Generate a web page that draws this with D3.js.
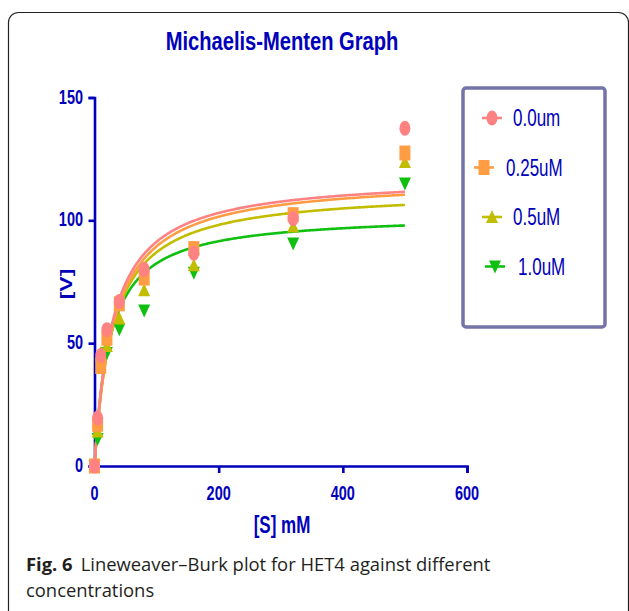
<!DOCTYPE html>
<html>
<head>
<meta charset="utf-8">
<script src="https://cdn.jsdelivr.net/npm/d3@7"></script>
<style>
  body { margin: 0; background: #fff; }
  svg { display: block; }
</style>
</head>
<body>
<div id="chart"></div>
<script>
const W = 629
const H = 611

// substrate concentrations [S] (mM)
const substrate = [0, 5, 10, 20, 40, 80, 160, 320, 500]
const seriesNames = ['0.0um', '0.25uM', '0.5uM', '1.0uM']
const v00 = [0, 19.5, 45, 55.5, 67, 80, 86.6, 100.7, 137.5]
const v025 = [0, 17, 40.5, 52, 66, 76.5, 88.5, 102.3, 127.4]
const v05 = [0, 14, 46, 48.8, 60, 71.5, 81.7, 97.5, 123.7]
const v10 = [0, 11, 41, 46, 55.7, 63.3, 78.7, 90.6, 115]
// fitted Michaelis-Menten parameters
const vmax = [118.2, 117.3, 112.5, 102.7]
const km = [29.5, 31.2, 29.3, 24.5]
const xTicks = [0, 200, 400, 600]
const yTicks = [0, 50, 100, 150]

const colors = ['#ff8282', '#ff9d45', '#c2bd00', '#10c010']
const symbols = ['circle', 'square', 'up', 'down']
const BLUE = '#0000bb'
const SQ = 0.74 // the original figure is horizontally squeezed

const svg = d3.select('#chart').append('svg')
  .attr('width', W)
  .attr('height', H)

// outer figure frame
svg.append('rect')
  .attr('x', 8.5).attr('y', 12.5)
  .attr('width', 620).attr('height', 640)
  .attr('rx', 10)
  .attr('fill', 'none')
  .attr('stroke', '#222')
  .attr('stroke-width', 1.2)

const x = d3.scaleLinear().domain([0, 600]).range([94.5, 467])
const y = d3.scaleLinear().domain([0, 150]).range([466, 97.5])

function label(g, tx, ty, str, opts) {
  const o = Object.assign({ size: 16, weight: 'bold', anchor: 'middle', rot: 0, fill: BLUE, sq: SQ }, opts)
  const tr = o.rot
    ? `translate(${tx},${ty}) rotate(${o.rot}) scale(1,${o.sq})`
    : `translate(${tx},${ty}) scale(${o.sq},1)`
  return g.append('text')
    .attr('transform', tr)
    .attr('text-anchor', o.anchor)
    .attr('font-family', 'Liberation Sans, Arial, sans-serif')
    .attr('font-size', o.size)
    .attr('font-weight', o.weight)
    .attr('fill', o.fill)
    .text(str)
}

label(svg, 282, 50, 'Michaelis-Menten Graph', { size: 25.5, sq: 0.79 })

// axes
const gx = svg.append('g').attr('transform', `translate(0,${y(0)})`)
  .call(d3.axisBottom(x).tickValues(xTicks).tickSize(7).tickFormat(''))
const gy = svg.append('g').attr('transform', `translate(${x(0)},0)`)
  .call(d3.axisLeft(y).tickValues(yTicks).tickSize(6).tickFormat(''))
;[gx, gy].forEach(g => {
  g.select('.domain').attr('stroke', BLUE).attr('stroke-width', 2.6)
  g.selectAll('.tick line').attr('stroke', BLUE).attr('stroke-width', 2.6)
})
gx.select('.tick line').remove()

xTicks.forEach(t => label(svg, x(t), 500, t, { size: 21, sq: 0.69 }))
yTicks.forEach(t => label(svg, 83, y(t) + 6, t, { size: 21, anchor: 'end', sq: 0.69 }))

label(svg, 72, 284, '[V]', { size: 23, rot: -90 })
label(svg, 282, 533, '[S] mM', { size: 23 })

// fitted curves
const series = [v00, v025, v05, v10]
const line = d3.line().x(d => x(d[0])).y(d => y(d[1]))
const drawOrder = [3, 2, 1, 0]
drawOrder.forEach(i => {
  const pts = d3.range(0, 501, 2).map(s => [s, vmax[i] * s / (km[i] + s)])
  svg.append('path')
    .attr('d', line(pts))
    .attr('fill', 'none')
    .attr('stroke', colors[i])
    .attr('stroke-width', 2.6)
})

function marker(g, kind, cx, cy, color) {
  if (kind === 'circle') {
    g.append('ellipse').attr('cx', cx).attr('cy', cy)
      .attr('rx', 5.5).attr('ry', 7.5).attr('fill', color)
  } else if (kind === 'square') {
    g.append('rect').attr('x', cx - 5.5).attr('y', cy - 7.5)
      .attr('width', 11).attr('height', 15).attr('fill', color)
  } else if (kind === 'up') {
    g.append('path').attr('d', `M${cx - 6},${cy + 6}L${cx + 6},${cy + 6}L${cx},${cy - 7}Z`)
      .attr('fill', color)
  } else {
    g.append('path').attr('d', `M${cx - 6},${cy - 6}L${cx + 6},${cy - 6}L${cx},${cy + 7}Z`)
      .attr('fill', color)
  }
}

const gPts = svg.append('g')
drawOrder.forEach(i => {
  series[i].forEach((v, j) => marker(gPts, symbols[i], x(substrate[j]), y(v), colors[i]))
})

// legend
const lg = svg.append('g')
lg.append('rect')
  .attr('x', 463).attr('y', 88)
  .attr('width', 142).attr('height', 239)
  .attr('rx', 3)
  .attr('fill', '#fff')
  .attr('stroke', '#7474a8')
  .attr('stroke-width', 3.5)
const legendX = [492, 484, 492, 495]
const legendTextX = [513, 506, 513, 518]
seriesNames.forEach((name, i) => {
  const ly = 118 + i * 49.5
  lg.append('line')
    .attr('x1', legendX[i] - 10).attr('x2', legendX[i] + 10)
    .attr('y1', ly).attr('y2', ly)
    .attr('stroke', colors[i]).attr('stroke-width', 2.6)
  marker(lg, symbols[i], legendX[i], ly, colors[i])
  label(lg, legendTextX[i], ly + 8, name, { size: 23, weight: 'normal', anchor: 'start' })
})

// caption
const cap = svg.append('text')
  .attr('x', 26).attr('y', 571)
  .attr('font-family', 'Open Sans, sans-serif')
  .attr('font-size', 18.4)
  .attr('fill', '#231f20')
cap.append('tspan').attr('font-weight', 'bold').text('Fig. 6')
cap.append('tspan').attr('dx', 8).text('Lineweaver–Burk plot for HET4 against different')
svg.append('text')
  .attr('x', 26).attr('y', 597)
  .attr('font-family', 'Open Sans, sans-serif')
  .attr('font-size', 18.4)
  .attr('fill', '#231f20')
  .text('concentrations')
</script>
</body>
</html>
